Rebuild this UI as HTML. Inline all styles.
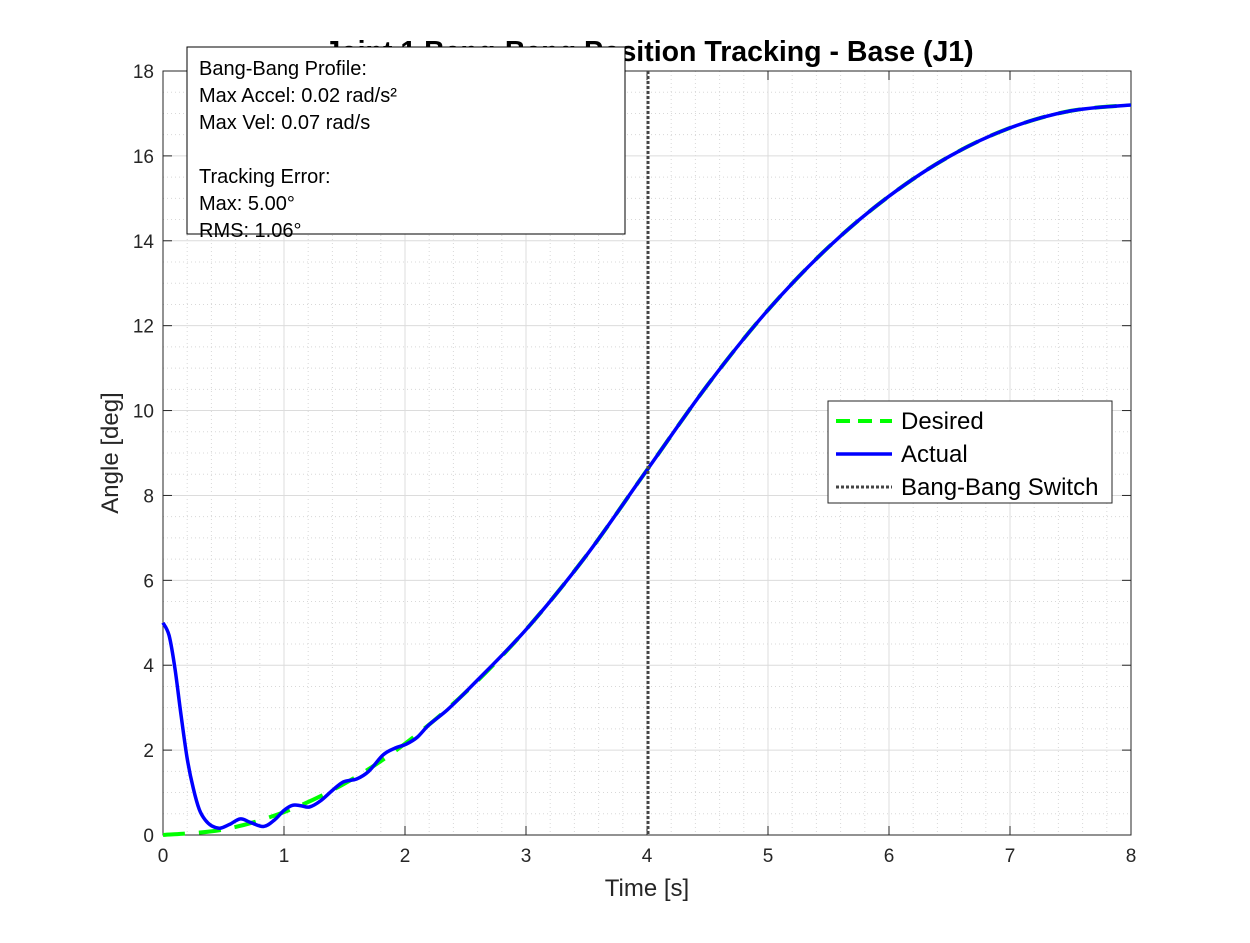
<!DOCTYPE html>
<html><head><meta charset="utf-8"><style>
body{margin:0;background:#fff;font-family:"Liberation Sans",sans-serif}
svg text{font-family:"Liberation Sans",sans-serif}
</style></head><body>
<svg id="c" width="1250" height="938" xmlns="http://www.w3.org/2000/svg"></svg>
<script>
const desiredT=[0,0.5,1,1.5,2,2.5,3,3.5,4,4.5,5,5.5,6,6.5,7,7.5,8];
const desiredY=[0,0.13,0.54,1.21,2.15,3.36,4.84,6.59,8.6,10.6,12.37,13.85,15.05,15.99,16.66,17.06,17.2];
const actualT=[0,0.05,0.1,0.15,0.2,0.25,0.3,0.35,0.4,0.47,0.55,0.64,0.72,0.83,0.92,1.0,1.07,1.14,1.21,1.3,1.4,1.49,1.6,1.7,1.82,1.92,2.01,2.1,2.2,2.35,2.54,3,3.5,4,4.5,5,5.5,6,6.5,7,7.5,8];
const actualY=[5.0,4.7,3.9,2.8,1.8,1.1,0.6,0.35,0.22,0.16,0.25,0.38,0.3,0.2,0.35,0.58,0.7,0.69,0.66,0.8,1.05,1.25,1.32,1.5,1.89,2.05,2.14,2.3,2.6,2.95,3.48,4.84,6.59,8.6,10.6,12.37,13.85,15.05,15.99,16.66,17.06,17.2];
const xTicks=[0,1,2,3,4,5,6,7,8];
const yTicks=[0,2,4,6,8,10,12,14,16,18];
const switchT=[4];
const NS="http://www.w3.org/2000/svg";
const svg=document.getElementById('c');
const X0=163,X1=1131,Y0=835,Y1=71;
const sx=t=>X0+(t-0)/8*(X1-X0);
const sy=v=>Y0-(v/18)*(Y0-Y1);
function el(tag,a,p){const e=document.createElementNS(NS,tag);for(const k in a)e.setAttribute(k,a[k]);(p||svg).appendChild(e);return e;}
function smooth(T,Y){
  const P=T.map((t,i)=>[sx(t),sy(Y[i])]);
  let d='M'+P[0][0].toFixed(1)+','+P[0][1].toFixed(1);
  for(let i=0;i<P.length-1;i++){
    const p0=P[Math.max(0,i-1)],p1=P[i],p2=P[i+1],p3=P[Math.min(P.length-1,i+2)];
    const c1=[p1[0]+(p2[0]-p0[0])/6,p1[1]+(p2[1]-p0[1])/6];
    const c2=[p2[0]-(p3[0]-p1[0])/6,p2[1]-(p3[1]-p1[1])/6];
    d+=' C'+c1[0].toFixed(1)+','+c1[1].toFixed(1)+' '+c2[0].toFixed(1)+','+c2[1].toFixed(1)+' '+p2[0].toFixed(1)+','+p2[1].toFixed(1);
  }
  return d;
}
const bg=el('rect',{x:X0,y:Y1,width:X1-X0,height:Y0-Y1,fill:'#fff'});


const grid=el('g',{});


for(let t=0.2;t<8;t+=0.2){if(Math.abs(t-Math.round(t))<1e-6)continue;el('line',{x1:sx(t),x2:sx(t),y1:Y1,y2:Y0,stroke:'#d8d8d8','stroke-dasharray':'1 3','stroke-width':1},grid);}
for(let v=0.5;v<18;v+=0.5){if(Math.abs(v/2-Math.round(v/2))<1e-6)continue;el('line',{x1:X0,x2:X1,y1:sy(v),y2:sy(v),stroke:'#d8d8d8','stroke-dasharray':'1 3','stroke-width':1},grid);}
xTicks.forEach(t=>{el('line',{x1:sx(t),x2:sx(t),y1:Y1,y2:Y0,stroke:'#dcdcdc','stroke-width':1},grid);});
yTicks.forEach(v=>{el('line',{x1:X0,x2:X1,y1:sy(v),y2:sy(v),stroke:'#dcdcdc','stroke-width':1},grid);});
const ax=el('g',{});


el('rect',{x:X0,y:Y1,width:X1-X0,height:Y0-Y1,fill:'none',stroke:'#262626','stroke-width':1},ax);
xTicks.forEach(t=>{el('line',{x1:sx(t),x2:sx(t),y1:Y0,y2:Y0-9,stroke:'#262626'},ax);el('line',{x1:sx(t),x2:sx(t),y1:Y1,y2:Y1+9,stroke:'#262626'},ax);
const tx=el('text',{x:sx(t),y:Y0+27,'text-anchor':'middle','font-size':19,fill:'#262626'},ax);tx.textContent=t;

});
yTicks.forEach(v=>{el('line',{x1:X0,x2:X0+9,y1:sy(v),y2:sy(v),stroke:'#262626'},ax);el('line',{x1:X1,x2:X1-9,y1:sy(v),y2:sy(v),stroke:'#262626'},ax);
const tx=el('text',{x:X0-9,y:sy(v)+7,'text-anchor':'end','font-size':19,fill:'#262626'},ax);tx.textContent=v;

});
const xl=el('text',{x:647,y:896,'text-anchor':'middle','font-size':24,fill:'#262626'});xl.textContent='Time [s]';


const yl=el('text',{x:118,y:453,'text-anchor':'middle','font-size':24,fill:'#262626',transform:'rotate(-90 118 453)'});yl.textContent='Angle [deg]';


const ti=el('text',{x:649,y:61,'text-anchor':'middle','font-size':28.5,'font-weight':'bold',fill:'#000'});ti.textContent='Joint 1 Bang-Bang Position Tracking - Base (J1)';


const dl=el('path',{d:smooth(desiredT,desiredY),fill:'none',stroke:'#00ff00','stroke-width':4,'stroke-dasharray':'22 14'});


const al=el('path',{d:smooth(actualT,actualY),fill:'none',stroke:'#0000ff','stroke-width':3.5,'stroke-linejoin':'round'});


switchT.forEach(t=>{const s=el('line',{x1:sx(t)+1,x2:sx(t)+1,y1:Y1,y2:Y0,stroke:'#444','stroke-width':3,'stroke-dasharray':'3 2'});

});
const ib=el('g',{});


el('rect',{x:187,y:47,width:438,height:187,fill:'#fff',stroke:'#000','stroke-width':1},ib);
['Bang-Bang Profile:','Max Accel: 0.02 rad/s²','Max Vel: 0.07 rad/s','','Tracking Error:','Max: 5.00°','RMS: 1.06°'].forEach((s,i)=>{const t=el('text',{x:199,y:75+i*27,'font-size':20,fill:'#000'},ib);t.textContent=s;});
const lg=el('g',{});


el('rect',{x:828,y:401,width:284,height:102,fill:'#fff',stroke:'#262626','stroke-width':1},lg);
[['Desired','#00ff00','14 8',4],['Actual','#0000ff','',3.5],['Bang-Bang Switch','#444','3 2',3]].forEach((d,i)=>{
const y=421+i*33;
const g=el('g',{},lg);


const a={x1:836,x2:892,y1:y,y2:y,stroke:d[1],'stroke-width':d[3]};if(d[2])a['stroke-dasharray']=d[2];el('line',a,g);
const t=el('text',{x:901,y:y+8,'font-size':24,fill:'#000'},g);t.textContent=d[0];});
</script>
</body></html>
